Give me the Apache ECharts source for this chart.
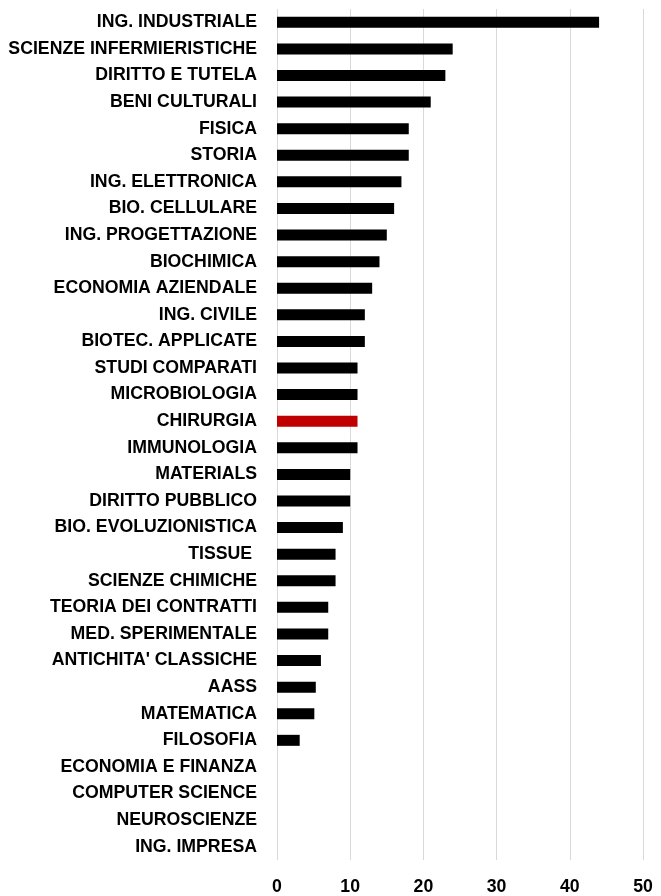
<!DOCTYPE html>
<html>
<head>
<meta charset="utf-8">
<script src="https://cdn.jsdelivr.net/npm/echarts@6/dist/echarts.min.js"></script>
<style>
  html, body { margin: 0; padding: 0; background: #fff; }
  #chart { width: 661px; height: 896px; }
</style>
</head>
<body>
<div id="chart"></div>
<script>
// categories, top to bottom
const departments = [
  'ING. INDUSTRIALE', 'SCIENZE INFERMIERISTICHE', 'DIRITTO E TUTELA', 'BENI CULTURALI',
  'FISICA', 'STORIA', 'ING. ELETTRONICA', 'BIO. CELLULARE', 'ING. PROGETTAZIONE',
  'BIOCHIMICA', 'ECONOMIA AZIENDALE', 'ING. CIVILE', 'BIOTEC. APPLICATE',
  'STUDI COMPARATI', 'MICROBIOLOGIA', 'CHIRURGIA', 'IMMUNOLOGIA', 'MATERIALS',
  'DIRITTO PUBBLICO', 'BIO. EVOLUZIONISTICA', 'TISSUE ', 'SCIENZE CHIMICHE',
  'TEORIA DEI CONTRATTI', 'MED. SPERIMENTALE', "ANTICHITA' CLASSICHE", 'AASS',
  'MATEMATICA', 'FILOSOFIA', 'ECONOMIA E FINANZA', 'COMPUTER SCIENCE',
  'NEUROSCIENZE', 'ING. IMPRESA'
];
const counts = [
  44, 24, 23, 21, 18, 18, 17, 16, 15, 14, 13, 12, 12, 11, 11, 11, 11, 10,
  10, 9, 8, 8, 7, 7, 6, 5.3, 5.1, 3.1, 0, 0, 0, 0
];
const highlight = 'CHIRURGIA';
const xTicks = [0, 50, 10]; // min, max, interval

const font = "'Liberation Sans Narrow', 'Arial Narrow', 'Liberation Sans', sans-serif";

const chart = echarts.init(document.getElementById('chart'));
chart.setOption({
  animation: false,
  grid: { left: 277, right: 18, top: 9, bottom: 33, containLabel: false },
  xAxis: {
    type: 'value',
    min: xTicks[0],
    max: xTicks[1],
    interval: xTicks[2],
    axisLine: { show: false },
    axisTick: { show: false },
    splitLine: { lineStyle: { color: '#d9d9d9', width: 1 } },
    axisLabel: { color: '#000', fontWeight: 'bold', fontSize: 17.7, fontFamily: font, margin: 18 }
  },
  yAxis: {
    type: 'category',
    inverse: true,
    data: departments,
    axisLine: { show: false },
    axisTick: { show: false },
    axisLabel: { color: '#000', fontWeight: 'bold', fontSize: 17.7, fontFamily: font, margin: 20 }
  },
  series: [{
    type: 'bar',
    barWidth: 11,
    data: counts.map((v, i) => ({
      value: v,
      itemStyle: { color: departments[i] === highlight ? '#c00000' : '#000' }
    }))
  }]
});
</script>
</body>
</html>
